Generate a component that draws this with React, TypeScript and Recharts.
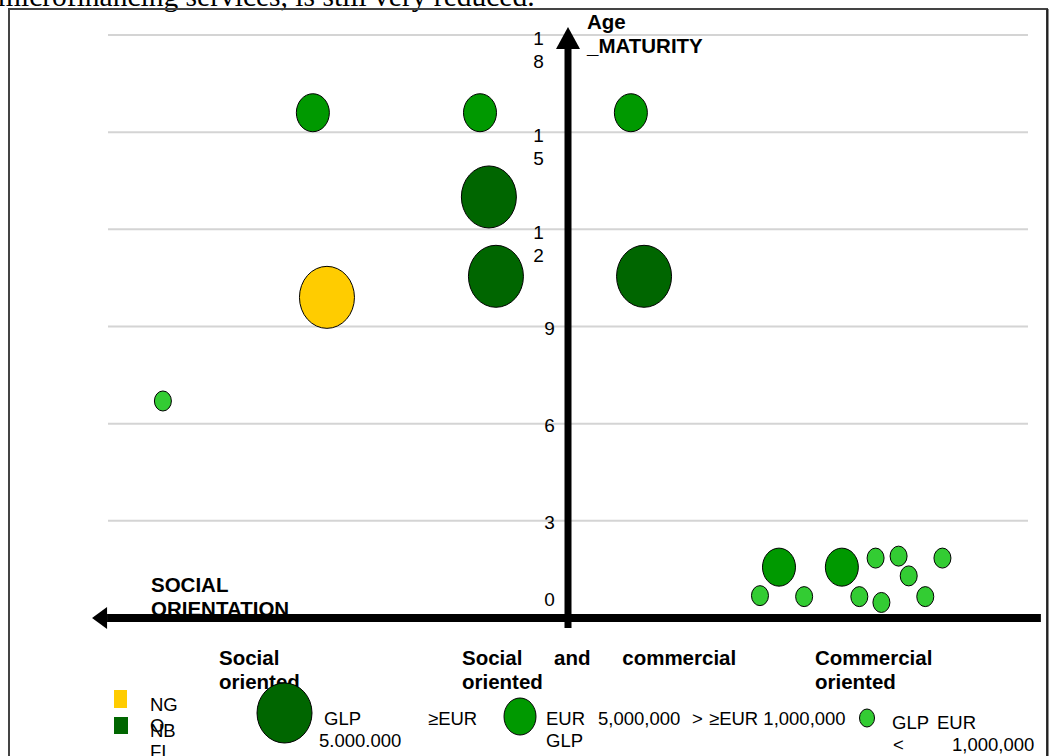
import React from 'react';
import {
  ScatterChart,
  Scatter,
  XAxis,
  YAxis,
  CartesianGrid,
  ReferenceLine,
  Customized,
} from 'recharts';

// ---------------------------------------------------------------------------
// Data: orientation (0 = social … 3 = commercial) and age in years
// ---------------------------------------------------------------------------
const ORIENTATION_DOMAIN: [number, number] = [0, 3];
const ORIENTATION_TICKS = [0, 1, 2, 3];
const ORIENTATION_MIDPOINT = 1.5;
const AGE_DOMAIN: [number, number] = [0, 18];
const AGE_TICKS = [0, 3, 6, 9, 12, 15, 18];

// NGO, GLP >= EUR 5.000.000
const ngoOrientation = [0.714];
const ngoAge = [9.9];

// NBFI, GLP >= EUR 5.000.000
const nbfiOrientation = [1.242, 1.265, 1.748];
const nbfiAge = [13.0, 10.55, 10.55];

// EUR 5,000,000 > GLP >= EUR 1,000,000
const midGlpOrientation = [0.668, 1.213, 1.705, 2.188, 2.393];
const midGlpAge = [15.6, 15.6, 15.6, 1.57, 1.57];

// GLP < EUR 1,000,000
const smallGlpOrientation = [0.179, 2.126, 2.27, 2.45, 2.503, 2.522, 2.578, 2.611, 2.665, 2.721];
const smallGlpAge = [6.7, 0.69, 0.66, 0.66, 1.85, 0.48, 1.91, 1.3, 0.66, 1.85];

const CATEGORY_LABELS = [
  ['Social', 'oriented'],
  ['Social and commercial', 'oriented'],
  ['Commercial', 'oriented'],
];
const LEGEND_TYPES = ['NGO', 'NBFI'];

const zip = (xs: number[], ys: number[]) => xs.map((x, i) => ({ x, y: ys[i] }));

const ngoData = zip(ngoOrientation, ngoAge);
const nbfiData = zip(nbfiOrientation, nbfiAge);
const midGlpData = zip(midGlpOrientation, midGlpAge);
const smallGlpData = zip(smallGlpOrientation, smallGlpAge);

// ---------------------------------------------------------------------------
// Layout & style
// ---------------------------------------------------------------------------
const W = 1051;
const H = 756;
const MARGIN = { top: 35, right: 23, bottom: 137, left: 107 };
const PLOT_W = W - MARGIN.left - MARGIN.right;
const AGE_AXIS_PX =
  MARGIN.left +
  ((ORIENTATION_MIDPOINT - ORIENTATION_DOMAIN[0]) / (ORIENTATION_DOMAIN[1] - ORIENTATION_DOMAIN[0])) * PLOT_W;

const SANS = '"Liberation Sans", Arial, Helvetica, sans-serif';
const SERIF = '"Liberation Serif", "Times New Roman", serif';

const COLORS = {
  ngo: '#FFCC00',
  nbfi: '#006600',
  mid: '#009900',
  small: '#33CC33',
};

const BUBBLE = {
  large: { rx: 27.5, ry: 31 },
  medium: { rx: 16.5, ry: 19 },
  small: { rx: 8.5, ry: 10 },
};

const bubble = (fill: string, size: { rx: number; ry: number }) => (p: any) =>
  (
    <ellipse
      cx={p.cx}
      cy={p.cy}
      rx={size.rx}
      ry={size.ry}
      fill={fill}
      stroke="#000"
      strokeWidth={1}
    />
  );

// Age tick labels sit just left of the central age arrow; two-digit values wrap
const renderAgeTick = (props: any) => {
  const { y, payload } = props;
  const digits = String(payload.value).split('');
  const multi = digits.length > 1;
  const cx = AGE_AXIS_PX - (multi ? 29 : 18);
  const base = payload.value === 0 ? y - 12 : y + (multi ? 9.5 : 8.5);
  return (
    <text key={`age-${payload.value}`} x={cx} y={base} textAnchor="middle" fontSize={19} fontFamily={SANS} fill="#000">
      {digits.map((d, i) => (
        <tspan key={i} x={cx} dy={i === 0 ? 0 : 23}>
          {d}
        </tspan>
      ))}
    </text>
  );
};

// Horizontal arrow pointing left (social orientation)
const LeftArrow = (p: any) => {
  const { x1, y1, x2 } = p;
  const tipX = Math.min(x1, x2);
  const endX = Math.max(x1, x2);
  const head = 15;
  return (
    <g>
      <line x1={tipX + head} y1={y1} x2={endX} y2={y1} stroke="#000" strokeWidth={8} />
      <polygon points={`${tipX},${y1} ${tipX + head},${y1 - 11} ${tipX + head},${y1 + 11}`} fill="#000" />
    </g>
  );
};

// Vertical arrow pointing up (age / maturity)
const UpArrow = (p: any) => {
  const { x1, y1, y2 } = p;
  const tipY = Math.min(y1, y2);
  const endY = Math.max(y1, y2);
  const head = 22;
  return (
    <g>
      <line x1={x1} y1={tipY + head} x2={x1} y2={endY} stroke="#000" strokeWidth={7} />
      <polygon points={`${x1},${tipY} ${x1 - 12},${tipY + head} ${x1 + 12},${tipY + head}`} fill="#000" />
    </g>
  );
};

const boldText = { fontFamily: SANS, fontSize: 20.5, fontWeight: 700, fill: '#000' } as const;
const plainText = { fontFamily: SANS, fontSize: 18.5, fill: '#000' } as const;

const CATEGORY_X = [219, 462, 815];

// Document frame, axis titles and category captions (drawn beneath the arrows)
const Captions = () => (
  <g>
    <text x={-2} y={6} fontFamily={SERIF} fontSize={29.5} fill="#000">
      microfinancing services, is still very reduced.
    </text>
    <rect x={9} y={9} width={1038} height={800} fill="none" stroke="#444" strokeWidth={2} />
    <line x1={1047.5} y1={9} x2={1047.5} y2={H} stroke="#222" strokeWidth={2} />

    <text x={587} y={29} {...boldText}>Age</text>
    <text x={587} y={53} {...boldText}>_MATURITY</text>

    <text x={151} y={592} {...boldText}>SOCIAL</text>
    <text x={151} y={616} {...boldText}>ORIENTATION</text>

    {CATEGORY_LABELS.map((lines, i) => (
      <text key={i} {...boldText}>
        {lines.map((l, j) => (
          <tspan
            key={j}
            x={CATEGORY_X[i]}
            y={665 + j * 24}
            style={j === 0 && l.includes(' ') ? { wordSpacing: '26px' } : undefined}
          >
            {l}
          </tspan>
        ))}
      </text>
    ))}
  </g>
);

// Legend: organisation type squares and GLP size classes
const LegendBlock = () => (
  <g>
    <rect x={114} y={690} width={13} height={18} fill={COLORS.ngo} />
    <rect x={114} y={717} width={14} height={17} fill={COLORS.nbfi} />
    <text {...plainText}>
      <tspan x={150} y={711}>{LEGEND_TYPES[0].slice(0, 2)}</tspan>
      <tspan x={150} y={732}>{LEGEND_TYPES[0].slice(2)}</tspan>
    </text>
    <text {...plainText}>
      <tspan x={150} y={737}>{LEGEND_TYPES[1].slice(0, 2)}</tspan>
      <tspan x={150} y={758}>{LEGEND_TYPES[1].slice(2)}</tspan>
    </text>

    <ellipse cx={284.5} cy={713} rx={27.5} ry={30} fill={COLORS.nbfi} stroke="#000" strokeWidth={1} />
    <text x={324} y={725} {...plainText}>GLP</text>
    <text x={319} y={747} {...plainText}>5.000.000</text>
    <text x={428} y={725} {...plainText}>≥EUR</text>

    <ellipse cx={520} cy={716.5} rx={16} ry={18.5} fill={COLORS.mid} stroke="#000" strokeWidth={1} />
    <text x={546} y={725} {...plainText}>EUR</text>
    <text x={598} y={725} {...plainText}>5,000,000</text>
    <text x={692} y={725} {...plainText}>&gt;</text>
    <text x={709} y={725} {...plainText}>≥EUR 1,000,000</text>
    <text x={546} y={747} {...plainText}>GLP</text>

    <ellipse cx={867} cy={718} rx={7.5} ry={9} fill={COLORS.small} stroke="#000" strokeWidth={1} />
    <text x={892} y={729} {...plainText}>GLP</text>
    <text x={937} y={729} {...plainText}>EUR</text>
    <text x={893} y={751} {...plainText}>&lt;</text>
    <text x={952} y={751} {...plainText}>1,000,000</text>
  </g>
);

export default function App() {
  return (
    <div style={{ position: 'absolute', left: 0, top: 0, width: W, height: H, background: '#fff' }}>
      <ScatterChart width={W} height={H} margin={MARGIN}>
        <Customized component={<Captions />} />
        <CartesianGrid vertical={false} stroke="#d4d4d4" strokeWidth={2} />
        <XAxis
          type="number"
          dataKey="x"
          domain={ORIENTATION_DOMAIN}
          ticks={ORIENTATION_TICKS}
          interval={0}
          height={1}
          axisLine={false}
          tick={false}
          tickLine={{ stroke: '#808080', strokeWidth: 1 }}
          tickSize={7}
        />
        <YAxis
          type="number"
          dataKey="y"
          domain={AGE_DOMAIN}
          ticks={AGE_TICKS}
          interval={0}
          width={1}
          axisLine={false}
          tickLine={false}
          tick={renderAgeTick}
        />
        <ReferenceLine
          segment={[
            { x: -0.052, y: 0 },
            { x: 3.042, y: 0 },
          ]}
          ifOverflow="visible"
          shape={<LeftArrow />}
        />
        <ReferenceLine
          segment={[
            { x: ORIENTATION_MIDPOINT, y: -0.31 },
            { x: ORIENTATION_MIDPOINT, y: 18.25 },
          ]}
          ifOverflow="visible"
          shape={<UpArrow />}
        />
        <Scatter name="NGO" data={ngoData} isAnimationActive={false} shape={bubble(COLORS.ngo, BUBBLE.large)} />
        <Scatter name="NBFI" data={nbfiData} isAnimationActive={false} shape={bubble(COLORS.nbfi, BUBBLE.large)} />
        <Scatter
          name="EUR 5,000,000 > GLP ≥ EUR 1,000,000"
          data={midGlpData}
          isAnimationActive={false}
          shape={bubble(COLORS.mid, BUBBLE.medium)}
        />
        <Scatter
          name="GLP < EUR 1,000,000"
          data={smallGlpData}
          isAnimationActive={false}
          shape={bubble(COLORS.small, BUBBLE.small)}
        />
        <Customized component={<LegendBlock />} />
      </ScatterChart>
    </div>
  );
}
